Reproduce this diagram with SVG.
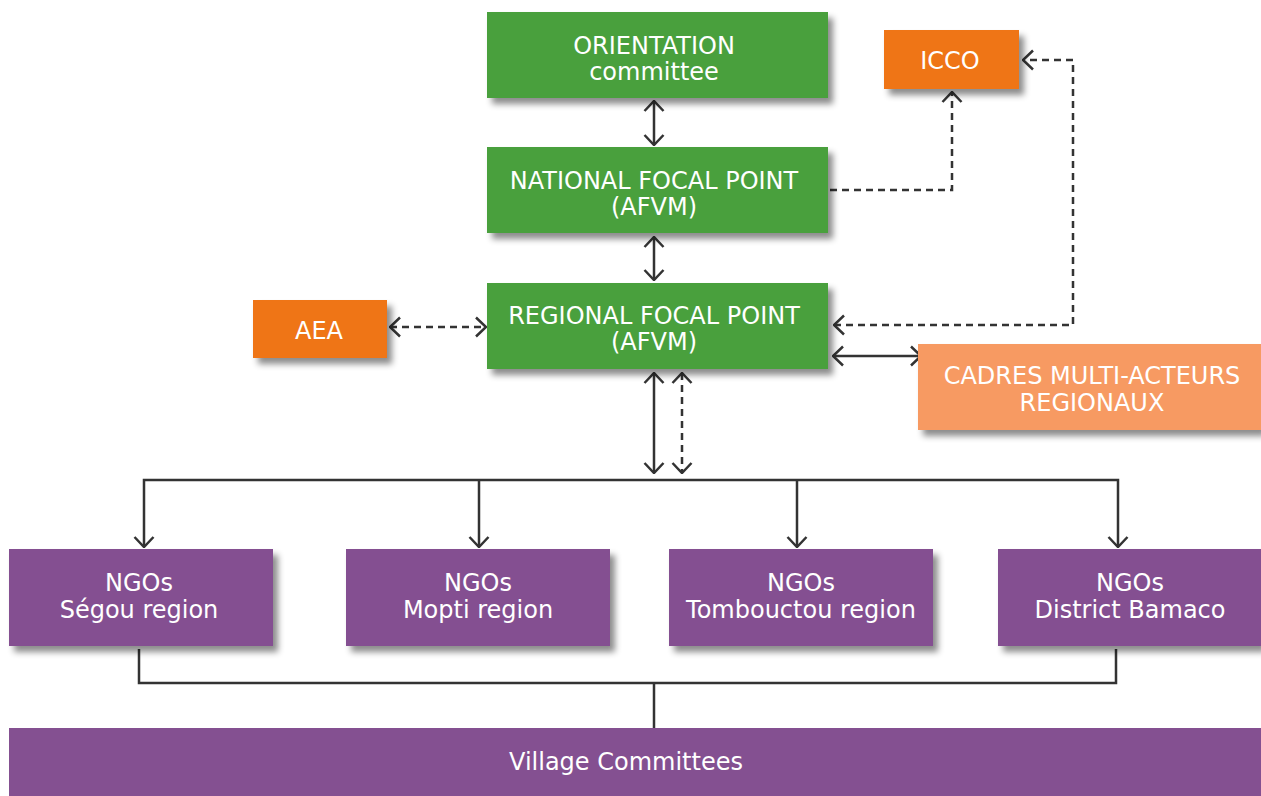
<svg xmlns="http://www.w3.org/2000/svg" width="1261" height="796" viewBox="0 0 1261 796">
<style>
.t{font-family:"DejaVu Sans","Verdana",sans-serif;font-size:24px;fill:#fff;text-anchor:middle}
.g{fill:#49a03d}
.o{fill:#ef7519}
.lo{fill:#f79a62}
.p{fill:#845091}
.c{fill:none;stroke:#333;stroke-width:2.5}
.d{stroke-dasharray:7,5}
</style>
<defs>
<filter id="sh" x="-10%" y="-20%" width="130%" height="150%">
<feDropShadow dx="5" dy="6" stdDeviation="3" flood-color="#000" flood-opacity="0.45"/>
</filter>
<marker id="a" viewBox="0 0 12 22" refX="11" refY="11" markerWidth="12" markerHeight="22" markerUnits="userSpaceOnUse" orient="auto-start-reverse">
<path d="M1,1.5 L11,11 L1,20.5" fill="none" stroke="#333" stroke-width="2.5"/>
</marker>
</defs>
<g id="connectors">
<line class="c" x1="654" y1="101" x2="654" y2="145" marker-start="url(#a)" marker-end="url(#a)"/>
<line class="c" x1="654" y1="237" x2="654" y2="280" marker-start="url(#a)" marker-end="url(#a)"/>
<polyline class="c d" points="830,190 952,190 952,92" marker-end="url(#a)"/>
<polyline class="c d" points="834,325 1073,325 1073,60 1023,60" marker-start="url(#a)" marker-end="url(#a)"/>
<line class="c d" x1="390" y1="327" x2="486" y2="327" marker-start="url(#a)" marker-end="url(#a)"/>
<line class="c" x1="833" y1="356" x2="921" y2="356" marker-start="url(#a)" marker-end="url(#a)"/>
<line class="c" x1="654" y1="373" x2="654" y2="473" marker-start="url(#a)" marker-end="url(#a)"/>
<line class="c d" x1="682" y1="373" x2="682" y2="473" marker-start="url(#a)" marker-end="url(#a)"/>
<polyline class="c" points="144,547 144,480 1118,480 1118,547" marker-start="url(#a)" marker-end="url(#a)"/>
<line class="c" x1="479" y1="480" x2="479" y2="547" marker-end="url(#a)"/>
<line class="c" x1="797" y1="480" x2="797" y2="547" marker-end="url(#a)"/>
<polyline class="c" points="139,649 139,683 1116,683 1116,649"/>
<line class="c" x1="654" y1="683" x2="654" y2="729"/>
</g>
<g id="orientation"><rect class="g" x="487" y="12" width="341" height="86" filter="url(#sh)"/><text class="t" x="654" y="54">ORIENTATION</text><text class="t" x="654" y="80">committee</text></g>
<g id="national"><rect class="g" x="487" y="147" width="341" height="86" filter="url(#sh)"/><text class="t" x="654" y="189">NATIONAL FOCAL POINT</text><text class="t" x="654" y="215">(AFVM)</text></g>
<g id="regional"><rect class="g" x="487" y="283" width="341" height="86" filter="url(#sh)"/><text class="t" x="654" y="324">REGIONAL FOCAL POINT</text><text class="t" x="654" y="350">(AFVM)</text></g>
<g id="icco"><rect class="o" x="884" y="30" width="135" height="59" filter="url(#sh)"/><text class="t" x="950" y="69">ICCO</text></g>
<g id="aea"><rect class="o" x="253" y="300" width="134" height="58" filter="url(#sh)"/><text class="t" x="319" y="339">AEA</text></g>
<g id="cadres"><rect class="lo" x="918" y="344" width="343" height="86" filter="url(#sh)"/><text class="t" x="1092" y="384">CADRES MULTI-ACTEURS</text><text class="t" x="1092" y="411">REGIONAUX</text></g>
<g id="segou"><rect class="p" x="9" y="549" width="264" height="97" filter="url(#sh)"/><text class="t" x="139" y="591">NGOs</text><text class="t" x="139" y="618">Ségou region</text></g>
<g id="mopti"><rect class="p" x="346" y="549" width="264" height="97" filter="url(#sh)"/><text class="t" x="478" y="591">NGOs</text><text class="t" x="478" y="618">Mopti region</text></g>
<g id="tombouctou"><rect class="p" x="669" y="549" width="264" height="97" filter="url(#sh)"/><text class="t" x="801" y="591">NGOs</text><text class="t" x="801" y="618">Tombouctou region</text></g>
<g id="bamaco"><rect class="p" x="998" y="549" width="263" height="97" filter="url(#sh)"/><text class="t" x="1130" y="591">NGOs</text><text class="t" x="1130" y="618">District Bamaco</text></g>
<g id="village"><rect class="p" x="9" y="728" width="1252" height="68"/><text class="t" x="626" y="770">Village Committees</text></g>
</svg>
